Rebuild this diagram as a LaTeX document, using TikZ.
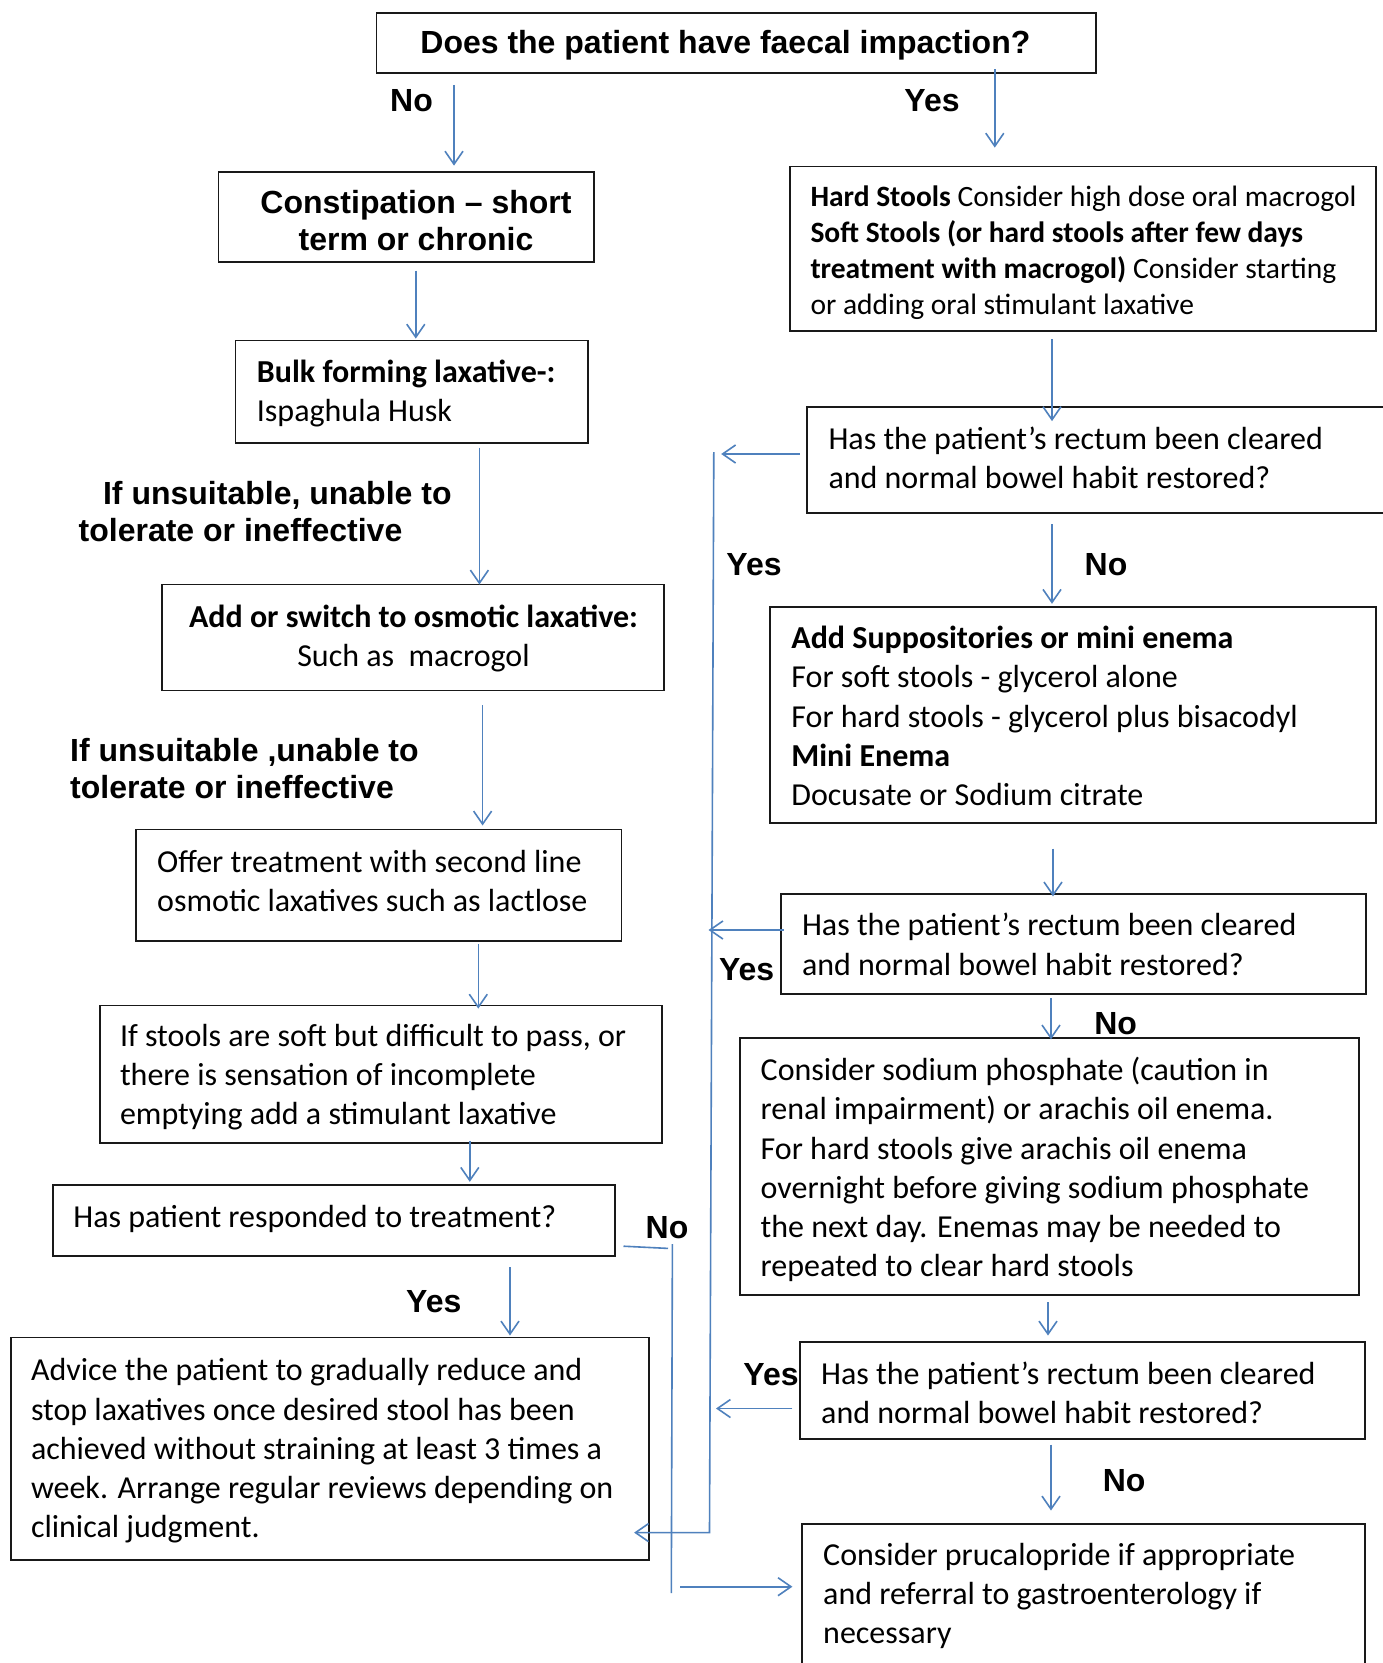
\documentclass[tikz,border=0pt]{standalone}
\usepackage{fontspec}
\setmainfont{Carlito}
\newfontfamily\arialfont{Liberation Sans}
\usetikzlibrary{arrows.meta,fit}
\definecolor{lineblue}{RGB}{79,129,189}
\begin{document}
\begin{tikzpicture}[x=1pt,y=-1pt,
 box/.style={draw=black!90, line width=1.8pt, inner sep=0pt},
 txt/.style={font=\fontsize{32}{39.2}\selectfont, inner sep=0pt, align=left, anchor=west},
 lab/.style={font=\arialfont\bfseries\fontsize{32}{37}\selectfont, inner sep=0pt, align=left},
 conn/.style={draw=lineblue, line width=1.6pt},
 arr/.style={conn, -{Straight Barb[length=13pt,width=18pt]}}]
\useasboundingbox (0,0) rectangle (1382,1663);
\fill[white] (0,0) rectangle (1382,1663);

% ---------- boxes ----------
\node[box, fit={(376.5,12.7) (1095.6,73.2)}] (q) {};
\node[box, fit={(218.5,171.8) (594,262)}] (cons) {};
\node[box, fit={(235.5,340.5) (587.6,443.3)}] (bulk) {};
\node[box, fit={(162.3,584.4) (664,690.5)}] (osm) {};
\node[box, fit={(135.8,829.4) (621.5,940.8)}] (offer) {};
\node[box, fit={(99.7,1005.5) (661.8,1143.3)}] (stools) {};
\node[box, fit={(53,1184.7) (615,1255.7)}] (resp) {};
\node[box, fit={(10.6,1337.4) (649,1560)}] (adv) {};
\node[box, fit={(790,166.5) (1375.6,331)}] (hard) {};
\node[box, fit={(807,407.3) (1395,513.3)}] (r1) {};
\node[box, fit={(770,606.7) (1375.6,823)}] (supp) {};
\node[box, fit={(780.6,894) (1366,993.8)}] (r2) {};
\node[box, fit={(740.3,1038.3) (1358.6,1295)}] (sod) {};
\node[box, fit={(799.7,1341.7) (1365,1439.2)}] (r3) {};
\node[box, fit={(801.8,1524) (1365,1685)}] (pr) {};

% ---------- texts ----------
\node[lab] (q-t) at (725.4,45.6) {Does the patient have faecal impaction?};
\node[lab, align=center] (cons-t) at (416,221) {Constipation – short\\term or chronic};
\node[txt] (bulk-t) at (256.7,393.8) {\textbf{Bulk forming laxative-:}\\Ispaghula Husk};
\node[txt, anchor=center, align=center] (osm-t) at (413.5,638.8) {\textbf{Add or switch to osmotic laxative:}\\Such as\ \ macrogol};
\node[txt] (offer-t) at (157,880.8) {Offer treatment with second line\\osmotic laxatives such as lactlose};
\node[txt] (stools-t) at (119.8,1077.4) {If stools are soft but difficult to pass, or\\there is sensation of incomplete\\emptying add a stimulant laxative};
\node[txt] (resp-t) at (73.2,1218.5) {Has patient responded to treatment?};
\node[txt] (adv-t) at (30.8,1451) {Advice the patient to gradually reduce and\\stop laxatives once desired stool has been\\achieved without straining at least 3 times a\\week. Arrange regular reviews depending on\\clinical judgment.};
\node[txt, font=\fontsize{29.5}{36}\selectfont] (hard-t) at (810.3,252.3) {\textbf{Hard Stools} Consider high dose oral macrogol\\\textbf{Soft Stools (or hard stools after few days}\\\textbf{treatment with macrogol)} Consider starting\\or adding oral stimulant laxative};
\node[txt] (r1-t) at (828.3,457.7) {Has the patient’s rectum been cleared\\and normal bowel habit restored?};
\node[txt] (supp-t) at (791.2,716) {\textbf{Add Suppositories or mini enema}\\For soft stools - glycerol alone\\For hard stools - glycerol plus bisacodyl\\\textbf{Mini Enema}\\Docusate or Sodium citrate};
\node[txt] (r2-t) at (801.8,944.4) {Has the patient’s rectum been cleared\\and normal bowel habit restored?};
\node[txt] (sod-t) at (760.5,1169.6) {Consider sodium phosphate (caution in\\renal impairment) or arachis oil enema.\\For hard stools give arachis oil enema\\overnight before giving sodium phosphate\\the next day. Enemas may be needed to\\repeated to clear hard stools};
\node[txt] (r3-t) at (821,1392.6) {Has the patient’s rectum been cleared\\and normal bowel habit restored?};
\node[txt] (pr-t) at (823,1596) {Consider prucalopride if appropriate\\and referral to gastroenterology if\\necessary};

% ---------- labels ----------
\node[lab] (l-no0) at (411.5,100.7) {No};
\node[lab] (l-yes0) at (932,100.7) {Yes};
\node[lab, anchor=west] (l-uns1) at (78.5,511.5) {\hspace*{24.4pt}If unsuitable, unable to\\tolerate or ineffective};
\node[lab, anchor=west] (l-uns2) at (70,768.5) {If unsuitable ,unable to\\tolerate or ineffective};
\node[lab] (l-yes1) at (754,564.2) {Yes};
\node[lab] (l-no1) at (1106,564.2) {No};
\node[lab] (l-yes2) at (746.7,969.4) {Yes};
\node[lab] (l-no2) at (1115.7,1023.5) {No};
\node[lab] (l-no3) at (667,1228) {No};
\node[lab] (l-yes3) at (433.8,1301.4) {Yes};
\node[lab] (l-yes4) at (771,1374.5) {Yes};
\node[lab] (l-no4) at (1124.2,1480.6) {No};

% ---------- connector start/end points ----------
\coordinate (s1) at (454,84.8);
\coordinate (s2) at (994.8,69);
\coordinate (s3) at (415.8,270.5);
\coordinate (s4) at (479.4,447.6);
\coordinate (s5) at (482.6,705.3);
\coordinate (s6) at (478.3,944);
\coordinate (s7) at (469.8,1141);
\coordinate (s8) at (510,1267.4);
\coordinate (s9) at (1052,339.4);
\coordinate (s10) at (1052,524);
\coordinate (s11) at (1053,848.5);
\coordinate (s12) at (1051,998);
\coordinate (s13) at (1048,1302.4);
\coordinate (s14) at (1051,1444.5);

% ---------- vertical arrows ----------
\draw[arr] (s1) -- ([yshift=5.3pt]s1 |- cons.north);
\draw[arr] (s2) -- ([yshift=18pt]s2 |- hard.north);
\draw[arr] (s3) -- ([yshift=1pt]s3 |- bulk.north);
\draw[arr] (s4) -- ([yshift=-1pt]s4 |- osm.north);
\draw[arr] (s5) -- ([yshift=3pt]s5 |- offer.north);
\draw[arr] (s6) -- ([yshift=-4pt]s6 |- stools.north);
\draw[arr] (s7) -- ([yshift=2pt]s7 |- resp.north);
\draw[arr] (s8) -- ([yshift=1pt]s8 |- adv.north);
\draw[arr] (s9) -- ([yshift=-14.7pt]s9 |- r1.north);
\draw[arr] (s10) -- ([yshift=2pt]s10 |- supp.north);
\draw[arr] (s11) -- ([yshift=-3.3pt]s11 |- r2.north);
\draw[arr] (s12) -- ([yshift=-2pt]s12 |- sod.north);
\draw[arr] (s13) -- ([yshift=5.3pt]s13 |- r3.north);
\draw[arr] (s14) -- ([yshift=12.6pt]s14 |- pr.north);

% ---------- Yes return line ----------
\coordinate (vtop) at (713.8,452);
\coordinate (vbot) at (709.5,1532.6);
\coordinate (y1e) at (721.2,454);
\coordinate (y2e) at (708.5,930);
\coordinate (y3e) at (716,1408.5);
\draw[arr] ([xshift=-6.2pt]r1.west |- y1e) -- (y1e);
\draw[arr] ([xshift=4.2pt]r2.west |- y2e) -- (y2e);
\draw[arr] ([xshift=-6.4pt]r3.west |- y3e) -- (y3e);
\draw[arr] (vtop) -- (vbot) -- ([xshift=-15.8pt]vbot -| adv.east);

% ---------- No line ----------
\coordinate (nA) at (622.6,1246.2);
\coordinate (nB) at (668,1248.4);
\coordinate (nC) at (672.4,1244);
\coordinate (nD) at (671.3,1593);
\coordinate (nE) at (680,1586.7);
\draw[conn] ([xshift=7.6pt]resp.east |- nA) -- (nB);
\draw[conn] (nC) -- (nD);
\draw[arr] (nE) -- ([xshift=-8.5pt]nE -| pr.west);
\end{tikzpicture}
\end{document}
